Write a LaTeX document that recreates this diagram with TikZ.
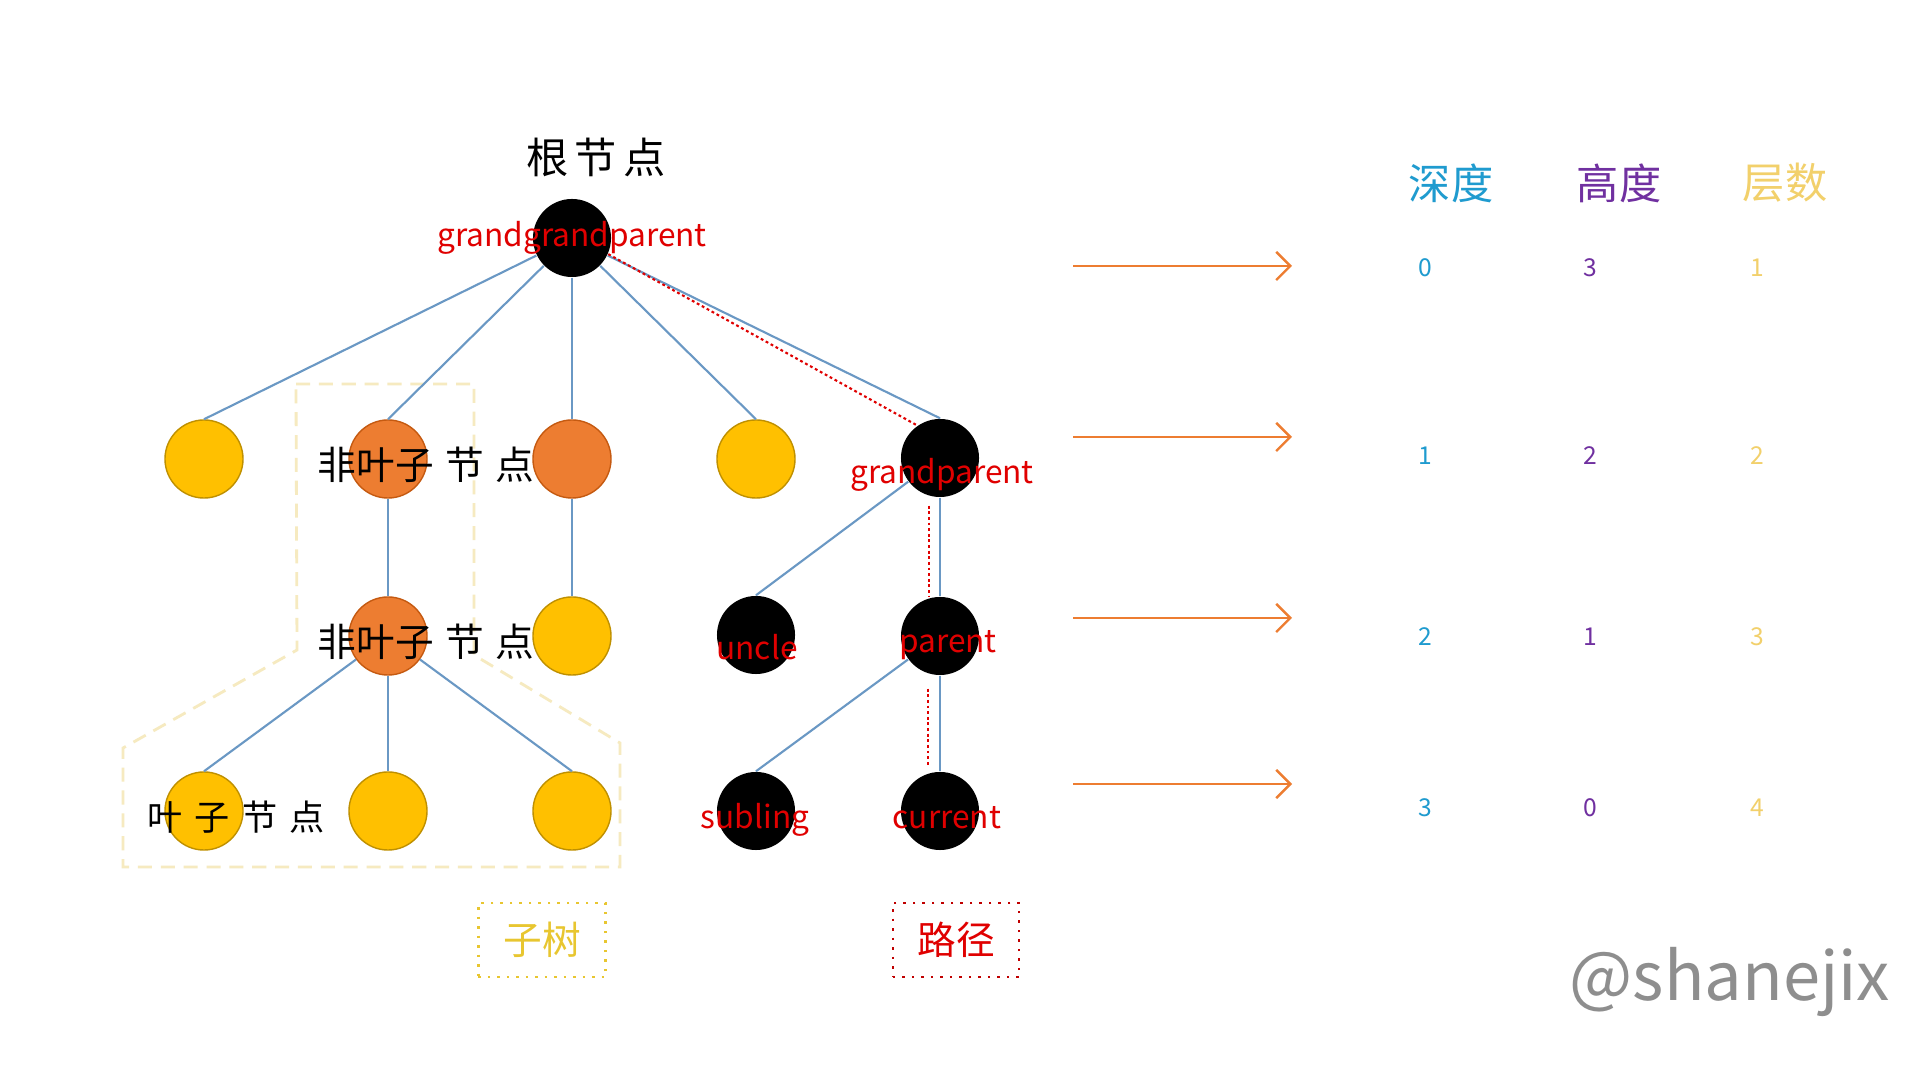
\documentclass[tikz,border=0pt]{standalone}
\usepackage{fontspec}
\newfontfamily\cjk{Noto Sans CJK SC}
\usetikzlibrary{arrows.meta}

\definecolor{leafyellow}{HTML}{FFC000}
\definecolor{leafborder}{HTML}{BF9000}
\definecolor{innerorange}{HTML}{ED7D31}
\definecolor{innerborder}{HTML}{C55A11}
\definecolor{linkblue}{HTML}{6A98C4}
\definecolor{arroworange}{HTML}{ED7D31}
\definecolor{depthblue}{HTML}{1F9BCF}
\definecolor{heightpurple}{HTML}{7030A0}
\definecolor{levelyellow}{HTML}{F2D06B}
\definecolor{pathred}{HTML}{E00000}
\definecolor{boxred}{HTML}{C00000}
\definecolor{subtreeyellow}{HTML}{F6EAC0}
\definecolor{boxyellow}{HTML}{E8C630}
\definecolor{signgray}{HTML}{8E8E8E}

\tikzset{
  treenode/.style={circle, minimum size=0.78cm, inner sep=0pt},
  leafnode/.style={treenode, fill=leafyellow, draw=leafborder, line width=0.4pt},
  innernode/.style={treenode, fill=innerorange, draw=innerborder, line width=0.4pt},
  pathnode/.style={treenode, fill=black},
  treelink/.style={linkblue, line width=0.6pt},
  pathline/.style={pathred, line width=0.6pt, dash pattern=on 0.8pt off 0.8pt},
  levelarrow/.style={arroworange, line width=0.7pt, -{Straight Barb[length=4pt,width=8pt]}},
  redlabel/.style={text=pathred, font=\cjk\fontsize{9}{10}\selectfont, inner sep=0pt},
  blacklabel/.style={text=black, font=\cjk\fontsize{11}{12}\selectfont, inner sep=0pt},
  headlabel/.style={font=\cjk\fontsize{12}{13}\selectfont, inner sep=0pt},
  numlabel/.style={font=\cjk\fontsize{7}{8}\selectfont, inner sep=0pt}
}

\begin{document}
\begin{tikzpicture}[x=0.01cm, y=-0.01cm]
		\useasboundingbox[fill=white] (0,0) rectangle (1920,1080);
		% subtree outline
		\draw[subtreeyellow, line width=0.8pt, dash pattern=on 4pt off 2.5pt] (296,384) -- (474,384) -- (474,655) -- (620,743) -- (620,867) -- (123,867) -- (123,748) -- (297,650) -- cycle;
		% tree nodes
		\node[pathnode] (ggp) at (572,238) {};  % root
		\node[leafnode] (l1a) at (204,459) {};
		\node[innernode] (nl1) at (388,459) {};
		\node[innernode] (nl2) at (572,459) {};
		\node[leafnode] (l1b) at (756,459) {};
		\node[pathnode] (gp) at (940,458) {};
		\node[innernode] (nl3) at (388,636) {};
		\node[leafnode] (l2a) at (572,636) {};
		\node[pathnode] (uncle) at (756,635) {};
		\node[pathnode] (par) at (940,636) {};
		\node[leafnode] (l3a) at (204,811) {};
		\node[leafnode] (l3b) at (388,811) {};
		\node[leafnode] (l3c) at (572,811) {};
		\node[pathnode] (sib) at (756,811) {};
		\node[pathnode] (cur) at (940,811) {};
		% links
		\foreach \c in {l1a,nl1,nl2,l1b,gp} \draw[treelink] (ggp) -- (\c.north);
		\draw[treelink] (nl1) -- (nl3.north);
		\draw[treelink] (nl2) -- (l2a.north);
		\foreach \c in {l3a,l3b,l3c} \draw[treelink] (nl3) -- (\c.north);
		\draw[treelink] (gp) -- (uncle.north);
		\draw[treelink] (gp) -- (par.north);
		\draw[treelink] (par) -- (sib.north);
		\draw[treelink] (par) -- (cur.north);
		% path root -> current
		\draw[pathline] (ggp.-24) -- (gp.125);
		\draw[pathline, shorten <=0.08cm] ([xshift=-0.11cm]gp.south) -- ([xshift=-0.11cm]par.north);
		\draw[pathline, shorten <=0.13cm, shorten >=0.06cm] ([xshift=-0.12cm]par.south) -- ([xshift=-0.12cm]cur.north);
		% node texts
		\node[blacklabel, font=\cjk\fontsize{12}{13}\selectfont] (rootlbl) at (596,157) {根\hspace{.15em}节\hspace{.15em}点};
		\node[blacklabel] (innerlbla) at (426,465) {非叶子\hspace{.3em}节\hspace{.3em}点};
		\node[blacklabel] (innerlblb) at (426,642) {非叶子\hspace{.3em}节\hspace{.3em}点};
		\node[blacklabel, font=\cjk\fontsize{10}{11}\selectfont] (leaflbl) at (236,817) {叶\hspace{.35em}子\hspace{.35em}节\hspace{.35em}点};
		\node[redlabel] (ggplbl) at (572,238) {grandgrandparent};
		\node[redlabel] (gplbl) at (942,475) {grandparent};
		\node[redlabel] (unclelbl) at (757,647) {uncle};
		\node[redlabel] (parlbl) at (948,645) {parent};
		\node[redlabel] (siblbl) at (755,820) {subling};
		\node[redlabel] (curlbl) at (947,818) {current};
		% level arrows
		\foreach \y [count=\i] in {266,437,618,784} {
			\coordinate (as\i) at (1073,\y);
			\coordinate (ae\i) at (1292,\y);
			\draw[levelarrow] (as\i) -- (ae\i);
		}
		% table
		\node[headlabel, text=depthblue] (depthhd) at (1451,183) {深度};
		\node[headlabel, text=heightpurple] (heighthd) at (1619,183) {高度};
		\node[headlabel, text=levelyellow] (levelhd) at (1785,183) {层数};
		\foreach \d/\h/\l/\y [count=\i] in {0/3/1/268, 1/2/2/456, 2/1/3/637, 3/0/4/808} {
			\node[numlabel, text=depthblue] (dep\i) at (1425,\y) {\d};
			\node[numlabel, text=heightpurple] (hgt\i) at (1590,\y) {\h};
			\node[numlabel, text=levelyellow] (lvl\i) at (1757,\y) {\l};
		}
		% legend boxes
		\node[draw=boxyellow, line width=0.7pt, dotted, minimum width=1.27cm, minimum height=0.74cm, text=boxyellow, font=\cjk\fontsize{11}{12}\selectfont] (subtreebox) at (542,940) {子树};
		\node[draw=boxred, line width=0.7pt, dotted, minimum width=1.26cm, minimum height=0.74cm, text=pathred, font=\cjk\fontsize{11}{12}\selectfont] (pathbox) at (956,940) {路径};
		% signature
		\node[text=signgray, font=\cjk\fontsize{19}{21}\selectfont, inner sep=0pt] (sign) at (1730,982) {@shanejix};
	\end{tikzpicture}
\end{document}
